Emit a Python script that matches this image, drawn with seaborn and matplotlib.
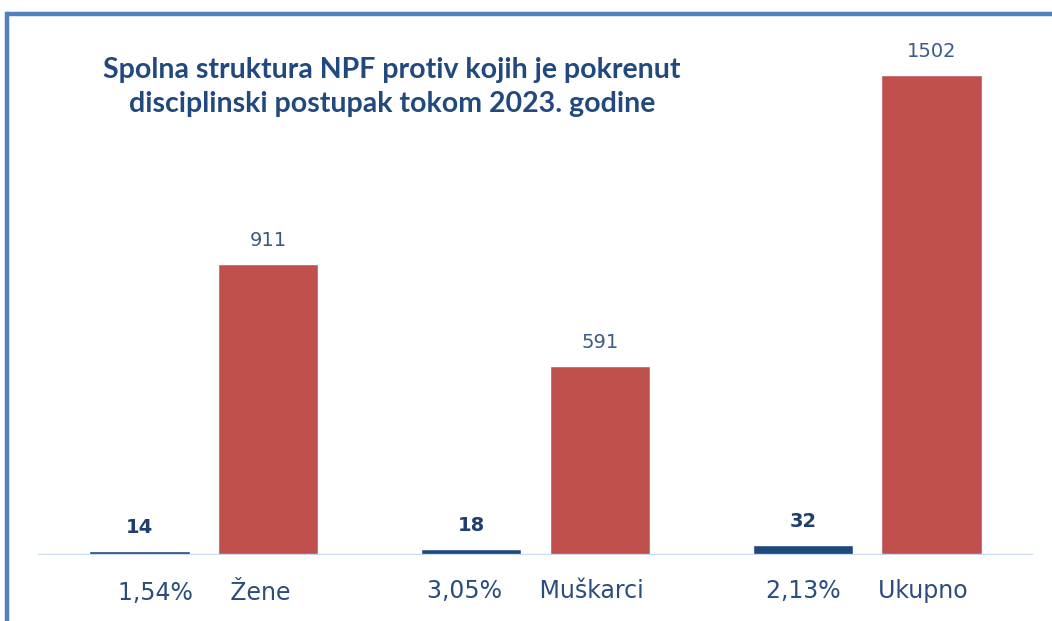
import matplotlib
matplotlib.use("Agg")
import matplotlib.pyplot as plt
import seaborn as sns
import pandas as pd
from matplotlib.lines import Line2D

# ---- data ----
categories = ["Žene", "Muškarci", "Ukupno"]
percent_labels = ["1,54%", "3,05%", "2,13%"]
disciplined = [14, 18, 32]
total = [911, 591, 1502]
series = ["Pokrenut disciplinski postupak", "Ukupno NPF"]
title_text = "Spolna struktura NPF protiv kojih je pokrenut\ndisciplinski postupak tokom 2023. godine"

df = pd.DataFrame({
    "kategorija": categories * 2,
    "serija": [series[0]] * len(categories) + [series[1]] * len(categories),
    "vrijednost": disciplined + total,
})

sns.set_theme(style="white")
plt.rcParams["font.family"] = ["DejaVu Sans"]

W, H = 1052, 621
fig = plt.figure(figsize=(W / 100, H / 100), dpi=100)
fig.patch.set_facecolor("white")

ax = fig.add_axes([38 / W, 66 / H, 995 / W, 525 / H])
sns.barplot(
    data=df, x="kategorija", y="vrijednost", hue="serija",
    palette=["#1F497D", "#C0504D"], saturation=1,
    width=0.775, gap=0.22, legend=False, ax=ax,
)

ax.set_xlim(-0.5, len(categories) - 0.5)
ax.set_ylim(0, 1643)
for s in ax.spines.values():
    s.set_visible(False)
ax.set_yticks([])
ax.set_xlabel("")
ax.set_ylabel("")
ax.set_facecolor("none")

ax.set_xticks(range(len(categories)))
ax.set_xticklabels([f"{p}     {c}" for p, c in zip(percent_labels, categories)],
                   fontsize=17, color="#2B4C7E")
ax.tick_params(axis="x", length=0, pad=17)

ax.axhline(0, color="#C9DAEE", lw=2.4, zorder=5)

ax.bar_label(ax.containers[0], labels=[str(v) for v in disciplined], padding=10,
             fontsize=14, fontweight="bold", color="#1F3F6E")
ax.bar_label(ax.containers[1], labels=[str(v) for v in total], padding=10,
             fontsize=14, color="#3A5A88")

fig.text(392 / W, 1 - 87 / H, title_text, ha="center", va="center",
         fontsize=20.5, fontweight="bold", color="#22497E",
         family=["Lato", "DejaVu Sans"], linespacing=1.42)

# frame (top and left edges)
fig.add_artist(Line2D([7 / W, 1.0], [1 - 14 / H, 1 - 14 / H], color="#4F81BD",
                      lw=3.2, transform=fig.transFigure, solid_capstyle="butt"))
fig.add_artist(Line2D([7 / W, 7 / W], [0.0, 1 - 14 / H], color="#4F81BD",
                      lw=3.2, transform=fig.transFigure, solid_capstyle="projecting"))

fig.savefig("out.png", dpi=100, facecolor="white")
